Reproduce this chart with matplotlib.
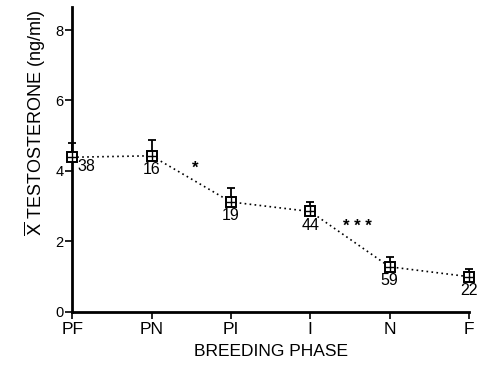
import matplotlib.pyplot as plt

plt.rcParams['font.family'] = ['Liberation Sans', 'DejaVu Sans']

# breeding phases and mean testosterone (ng/ml)
phases = ["PF", "PN", "PI", "I", "N", "F"]
mean_t = [4.39, 4.43, 3.12, 2.85, 1.28, 1.00]
sem_t = [0.40, 0.46, 0.40, 0.28, 0.27, 0.23]
n_birds = ["38", "16", "19", "44", "59", "22"]

# significance marks between phases
sig_x = [1.55, 3.6]
sig_y = [4.07, 2.43]
sig_txt = ["*", "* * *"]

fig = plt.figure(figsize=(4.78, 3.74), dpi=100)
ax = fig.add_axes([0.151, 0.166, 0.830, 0.815])

x = list(range(len(phases)))

# dotted line and upper error bars only
ax.plot(x, mean_t, linestyle=(0, (1, 2)), color="black", lw=1.2, zorder=2)
ax.errorbar(x, mean_t, yerr=[[0] * len(x), sem_t], fmt="none", ecolor="black",
            elinewidth=1.3, capsize=3, capthick=1.3, zorder=3, clip_on=False)
ax.plot(x, mean_t, "s", ms=6.5, mfc="white", mec="black", mew=1.4, zorder=4, clip_on=False)
ax.plot(x, mean_t, "+", ms=6.5, mec="black", mew=1.0, zorder=5, clip_on=False)

# sample sizes
for i in range(len(x)):
    if i == 0:
        ax.text(x[i] + 0.07, mean_t[i] - 0.06, n_birds[i], ha="left", va="top", fontsize=11.5)
    else:
        ax.text(x[i], mean_t[i] - 0.18, n_birds[i], ha="center", va="top", fontsize=11.5,
                clip_on=False)

for sx, sy, st in zip(sig_x, sig_y, sig_txt):
    ax.text(sx, sy, st, ha="center", va="center", fontsize=12, fontweight="bold")

ax.set_xlim(0, 5)
ax.set_ylim(0, 8.65)
ax.set_xticks(x)
ax.set_xticklabels(phases, fontsize=12.5)
ax.set_yticks([0, 2, 4, 6, 8])
ax.tick_params(axis="y", labelsize=10.5, length=5, width=1.2, direction="out", pad=1)
ax.tick_params(axis="x", length=5, width=1.2, direction="out", pad=2)

for s in ["top", "right"]:
    ax.spines[s].set_visible(False)
for s in ["left", "bottom"]:
    ax.spines[s].set_linewidth(2)

ax.set_xlabel("BREEDING PHASE", fontsize=12.5, labelpad=5)
ax.set_ylabel(r"$\overline{\mathrm{X}}$ TESTOSTERONE (ng/ml)", fontsize=13)
ax.yaxis.set_label_coords(-0.062, 0.62)

fig.savefig("out.png", dpi=100)
